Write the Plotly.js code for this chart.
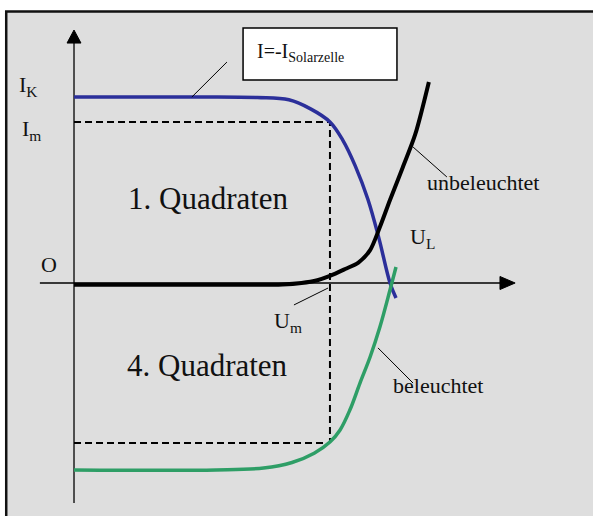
<!DOCTYPE html>
<html>
<head>
<meta charset="utf-8">
<script src="https://cdn.plot.ly/plotly-3.0.1.min.js"></script>
<style>
  html, body { margin: 0; padding: 0; background: #ffffff; }
  #chart { width: 593px; height: 516px; }
</style>
</head>
<body>
<div id="chart"></div>
<script>
// Kennlinien einer Solarzelle (Spannung U, Strom I, normiert: U_L = 1, I_K = 1)

// Strom der beleuchteten Zelle, I = -I_Solarzelle
const solarU = [0, 0.4, 0.58, 0.68, 0.75, 0.81, 0.85, 0.89, 0.93, 0.965, 1.0, 1.019];
const solarI = [1.0, 1.0, 0.997, 0.985, 0.935, 0.866, 0.77, 0.63, 0.45, 0.24, 0.0, -0.081];

// unbeleuchtete Kennlinie (Diodenkennlinie)
const darkU = [0, 0.5, 0.66, 0.72, 0.77, 0.81, 0.858, 0.9, 0.937, 0.968, 1.0, 1.04, 1.08, 1.123];
const darkI = [-0.01, -0.01, -0.008, 0.0, 0.015, 0.038, 0.075, 0.11, 0.177, 0.301, 0.446, 0.62, 0.8, 1.081];

// beleuchtete Kennlinie
const litU = [0, 0.45, 0.6, 0.69, 0.76, 0.81, 0.842, 0.873, 0.905, 0.937, 0.968, 1.0, 1.019];
const litI = [-1.005, -1.005, -0.995, -0.965, -0.915, -0.855, -0.79, -0.683, -0.538, -0.398, -0.237, -0.038, 0.086];

// Arbeitspunkt maximaler Leistung
const mppU = 0.81;
const mppI = 0.866;
const mppIlit = -0.86;

const serif = '"Liberation Serif", "Times New Roman", serif';
const blue = '#2b2f9a';
const green = '#2e9e66';
const dashed = { color: '#000', width: 2, dash: '7px,4px' };

const traces = [
  { x: [0, mppU, mppU], y: [mppI, mppI, mppIlit], mode: 'lines', line: dashed, hoverinfo: 'skip' },
  { x: [0, mppU], y: [mppIlit, mppIlit], mode: 'lines', line: dashed, hoverinfo: 'skip' },
  { x: solarU, y: solarI, mode: 'lines', line: { color: blue, width: 3.5, shape: 'spline', smoothing: 1 } },
  { x: darkU, y: darkI, mode: 'lines', line: { color: '#000', width: 4, shape: 'spline', smoothing: 0.8 } },
  { x: litU, y: litI, mode: 'lines', line: { color: green, width: 3.5, shape: 'spline', smoothing: 1 } }
];

// Hinweislinien zu den Beschriftungen
const leaders = [
  [0.484, 1.188, 0.373, 1.0],
  [1.073, 0.731, 1.180, 0.570],
  [0.962, -0.349, 1.073, -0.538],
  [0.696, -0.118, 0.804, -0.027]
];

const shapes = [
  // Rahmen
  { type: 'rect', xref: 'paper', yref: 'paper', x0: 0.0105, x1: 1.02, y0: -0.02, y1: 0.9775,
    fillcolor: '#dedede', line: { color: '#111', width: 2.5 }, layer: 'below' },
  // Achsen
  { type: 'line', x0: -0.108, x1: 1.35, y0: 0, y1: 0, line: { color: '#000', width: 1.3 }, layer: 'below' },
  { type: 'path', path: 'M1.348,0.035 L1.396,0 L1.348,-0.035 Z', fillcolor: '#000', line: { color: '#000', width: 1 } },
  { type: 'line', x0: 0, x1: 0, y0: -1.183, y1: 1.29, line: { color: '#000', width: 1.3 }, layer: 'below' },
  { type: 'path', path: 'M-0.022,1.29 L0,1.36 L0.022,1.29 Z', fillcolor: '#000', line: { color: '#000', width: 1 } },
  // Kasten fuer I = -I_Solarzelle
  { type: 'rect', x0: 0.535, x1: 1.022, y0: 1.091, y1: 1.371, fillcolor: '#ffffff',
    line: { color: '#000', width: 1.5 } }
].concat(leaders.map(l => ({ type: 'line', x0: l[0], y0: l[1], x1: l[2], y1: l[3],
  line: { color: '#000', width: 1 } })));

function label(text, x, y, size, anchor) {
  return { text: text, x: x, y: y, xref: 'x', yref: 'y', showarrow: false,
    xanchor: anchor || 'left', yanchor: 'middle', font: { family: serif, size: size, color: '#111' } };
}

const annotations = [
  label('I<sub>K</sub>', -0.180, 1.06, 22),
  label('I<sub>m</sub>', -0.171, 0.82, 22),
  label('O', -0.111, 0.097, 22),
  label('1. Quadraten', 0.427, 0.457, 31, 'center'),
  label('4. Quadraten', 0.422, -0.441, 31, 'center'),
  label('U<sub>m</sub>', 0.627, -0.21, 22),
  label('U<sub>L</sub>', 1.057, 0.24, 22),
  label('unbeleuchtet', 1.111, 0.54, 22),
  label('beleuchtet', 1.003, -0.551, 22),
  label('I=-I<sub>Solarzelle</sub>', 0.573, 1.24, 20)
];

const layout = {
  width: 593, height: 516,
  margin: { l: 0, r: 0, t: 0, b: 0 },
  paper_bgcolor: '#ffffff', plot_bgcolor: '#ffffff',
  showlegend: false,
  xaxis: { range: [-0.2342, 1.6424], visible: false, fixedrange: true },
  yaxis: { range: [-1.2527, 1.5215], visible: false, fixedrange: true },
  shapes: shapes,
  annotations: annotations
};

Plotly.newPlot('chart', traces, layout, { displayModeBar: false, staticPlot: true });
</script>
</body>
</html>
